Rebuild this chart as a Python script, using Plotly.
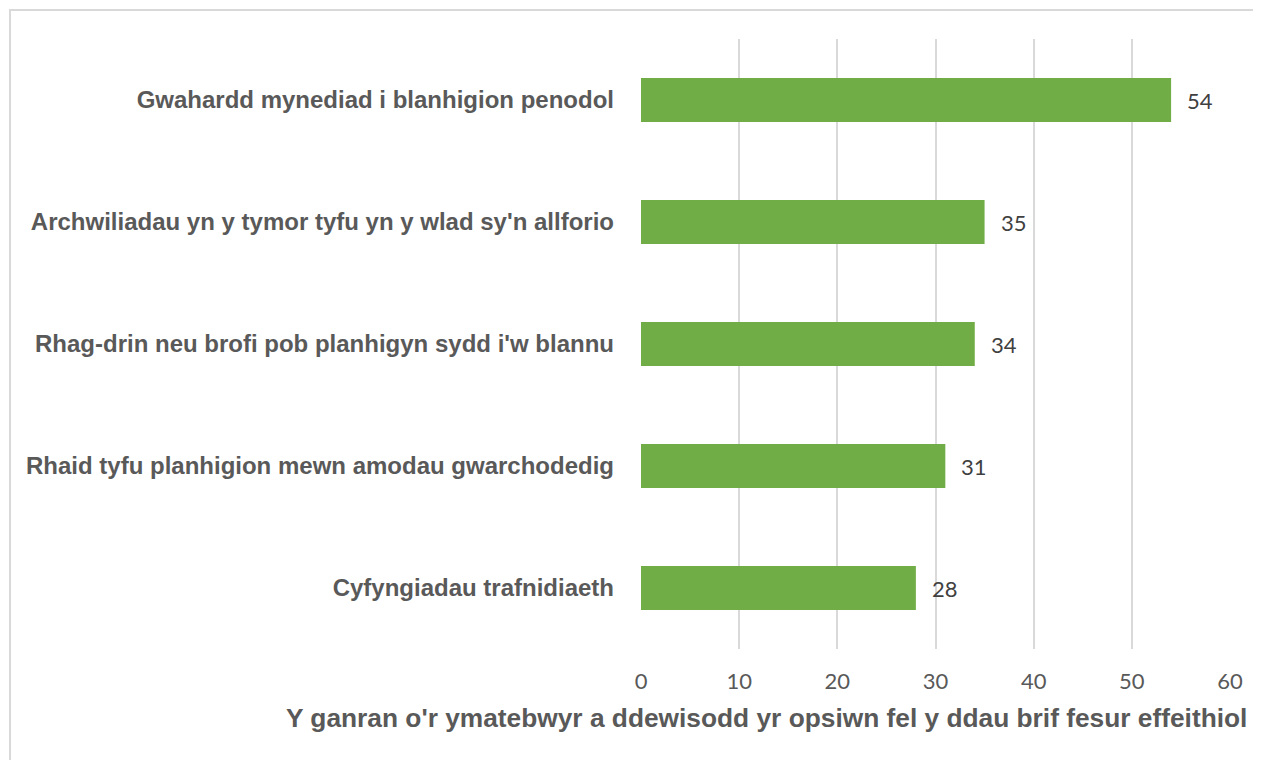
import plotly.graph_objects as go

categories = [
    "Cyfyngiadau trafnidiaeth",
    "Rhaid tyfu planhigion mewn amodau gwarchodedig",
    "Rhag-drin neu brofi pob planhigyn sydd i'w blannu",
    "Archwiliadau yn y tymor tyfu yn y wlad sy'n allforio",
    "Gwahardd mynediad i blanhigion penodol",
]
values = [28, 31, 34, 35, 54]
tick_vals = [0, 10, 20, 30, 40, 50, 60]
x_title = "Y ganran o'r ymatebwyr a ddewisodd yr opsiwn fel y ddau brif fesur effeithiol"

# page body has an 8px margin, so the figure is drawn 8px smaller and shifted
OFF = 8
W, H = 1261 - OFF, 760 - OFF
L, R, T, B = 641 - OFF, 31, 39 - OFF, 111
pw, ph = W - L - R, H - T - B

NUM_FONT = dict(family="Lato, Open Sans, sans-serif", size=22, color="#595959")

fig = go.Figure(go.Bar(
    x=values, y=categories, orientation="h",
    marker=dict(color="#70AD47", line=dict(width=0)),
    width=0.36,
))

for v, c in zip(values, categories):
    fig.add_annotation(x=v, y=c, text=str(v), showarrow=False, xanchor="left", yanchor="middle",
                       xshift=14, font=dict(family="Lato, Open Sans, sans-serif", size=22, color="#404040"))

fig.update_layout(
    width=W, height=H,
    margin=dict(l=L, r=R, t=T, b=B),
    paper_bgcolor="white", plot_bgcolor="white",
    showlegend=False,
    xaxis=dict(range=[0, 60], tickvals=tick_vals, showgrid=True, gridcolor="#D9D9D9", gridwidth=1.5,
               zeroline=False, showline=False, ticks="",
               tickfont=NUM_FONT, ticklabelstandoff=17),
    yaxis=dict(showgrid=False, zeroline=False, showline=False, ticks="",
               tickfont=dict(family="Liberation Sans, Arial, sans-serif", size=24, color="#595959", weight="bold"),
               ticklabelstandoff=26),
    font=dict(family="Liberation Sans, Arial, sans-serif"),
)

# x-axis title as annotation (left aligned like the reference)
fig.add_annotation(
    text="<b>" + x_title + "</b>", xref="paper", yref="paper",
    x=(284 - OFF - L) / pw, y=(H - (718 - OFF) - B) / ph, xanchor="left", yanchor="middle",
    showarrow=False, font=dict(family="Liberation Sans, Arial, sans-serif", size=26.3, color="#595959"),
)

# chart border (left and top visible; right/bottom cut off)
fig.add_shape(type="rect", xref="paper", yref="paper",
              x0=(10 - OFF - L) / pw, x1=(W + 10 - L) / pw, y0=(-10 - B) / ph, y1=(H - (10 - OFF) - B) / ph,
              line=dict(color="#D9D9D9", width=2), fillcolor="rgba(0,0,0,0)", layer="below")

fig.write_html("out.html")
